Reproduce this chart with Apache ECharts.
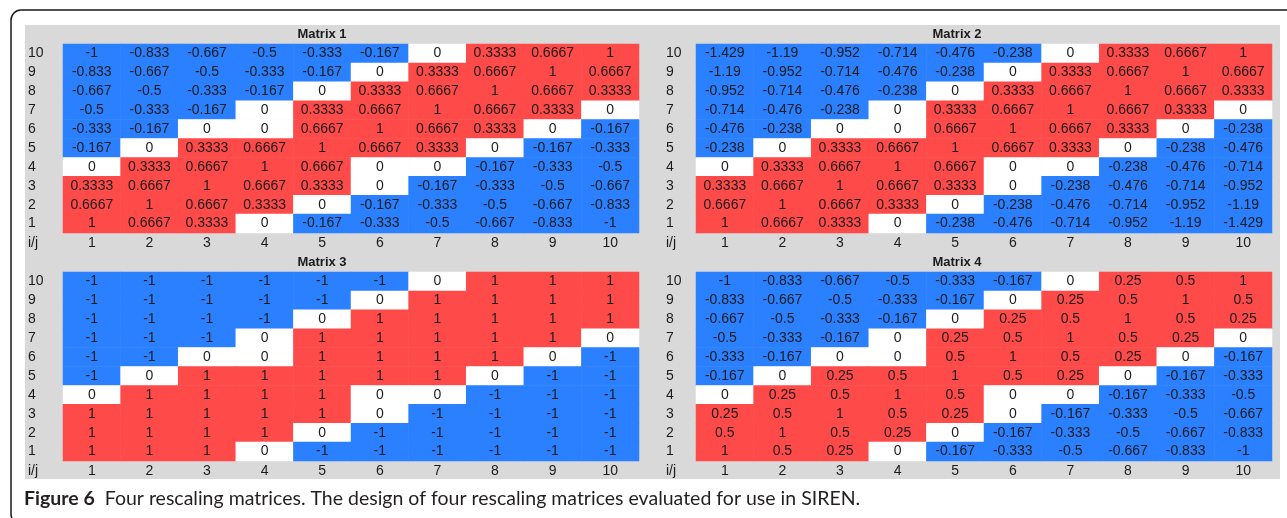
<!DOCTYPE html>
<html>
<head>
<meta charset="utf-8">
<script src="https://cdn.jsdelivr.net/npm/echarts@6/dist/echarts.min.js"></script>
<style>
html,body{margin:0;padding:0;background:#fff;}
#chart{width:1287px;height:518px;}
</style>
</head>
<body>
<div id="chart"></div>
<script>
// Column labels (j) and row labels (i, bottom to top)
const colLabels = ['1','2','3','4','5','6','7','8','9','10'];
const rowLabels = ['1','2','3','4','5','6','7','8','9','10'];
const titles = ['Matrix 1','Matrix 2','Matrix 3','Matrix 4'];

// Each matrix listed row by row from i = 10 (top) down to i = 1 (bottom)
const matrix1 = [
  [-1, -0.833, -0.667, -0.5, -0.333, -0.167, 0, 0.3333, 0.6667, 1],
  [-0.833, -0.667, -0.5, -0.333, -0.167, 0, 0.3333, 0.6667, 1, 0.6667],
  [-0.667, -0.5, -0.333, -0.167, 0, 0.3333, 0.6667, 1, 0.6667, 0.3333],
  [-0.5, -0.333, -0.167, 0, 0.3333, 0.6667, 1, 0.6667, 0.3333, 0],
  [-0.333, -0.167, 0, 0, 0.6667, 1, 0.6667, 0.3333, 0, -0.167],
  [-0.167, 0, 0.3333, 0.6667, 1, 0.6667, 0.3333, 0, -0.167, -0.333],
  [0, 0.3333, 0.6667, 1, 0.6667, 0, 0, -0.167, -0.333, -0.5],
  [0.3333, 0.6667, 1, 0.6667, 0.3333, 0, -0.167, -0.333, -0.5, -0.667],
  [0.6667, 1, 0.6667, 0.3333, 0, -0.167, -0.333, -0.5, -0.667, -0.833],
  [1, 0.6667, 0.3333, 0, -0.167, -0.333, -0.5, -0.667, -0.833, -1]
];
const matrix2 = [
  [-1.429, -1.19, -0.952, -0.714, -0.476, -0.238, 0, 0.3333, 0.6667, 1],
  [-1.19, -0.952, -0.714, -0.476, -0.238, 0, 0.3333, 0.6667, 1, 0.6667],
  [-0.952, -0.714, -0.476, -0.238, 0, 0.3333, 0.6667, 1, 0.6667, 0.3333],
  [-0.714, -0.476, -0.238, 0, 0.3333, 0.6667, 1, 0.6667, 0.3333, 0],
  [-0.476, -0.238, 0, 0, 0.6667, 1, 0.6667, 0.3333, 0, -0.238],
  [-0.238, 0, 0.3333, 0.6667, 1, 0.6667, 0.3333, 0, -0.238, -0.476],
  [0, 0.3333, 0.6667, 1, 0.6667, 0, 0, -0.238, -0.476, -0.714],
  [0.3333, 0.6667, 1, 0.6667, 0.3333, 0, -0.238, -0.476, -0.714, -0.952],
  [0.6667, 1, 0.6667, 0.3333, 0, -0.238, -0.476, -0.714, -0.952, -1.19],
  [1, 0.6667, 0.3333, 0, -0.238, -0.476, -0.714, -0.952, -1.19, -1.429]
];
const matrix3 = [
  [-1, -1, -1, -1, -1, -1, 0, 1, 1, 1],
  [-1, -1, -1, -1, -1, 0, 1, 1, 1, 1],
  [-1, -1, -1, -1, 0, 1, 1, 1, 1, 1],
  [-1, -1, -1, 0, 1, 1, 1, 1, 1, 0],
  [-1, -1, 0, 0, 1, 1, 1, 1, 0, -1],
  [-1, 0, 1, 1, 1, 1, 1, 0, -1, -1],
  [0, 1, 1, 1, 1, 0, 0, -1, -1, -1],
  [1, 1, 1, 1, 1, 0, -1, -1, -1, -1],
  [1, 1, 1, 1, 0, -1, -1, -1, -1, -1],
  [1, 1, 1, 0, -1, -1, -1, -1, -1, -1]
];
const matrix4 = [
  [-1, -0.833, -0.667, -0.5, -0.333, -0.167, 0, 0.25, 0.5, 1],
  [-0.833, -0.667, -0.5, -0.333, -0.167, 0, 0.25, 0.5, 1, 0.5],
  [-0.667, -0.5, -0.333, -0.167, 0, 0.25, 0.5, 1, 0.5, 0.25],
  [-0.5, -0.333, -0.167, 0, 0.25, 0.5, 1, 0.5, 0.25, 0],
  [-0.333, -0.167, 0, 0, 0.5, 1, 0.5, 0.25, 0, -0.167],
  [-0.167, 0, 0.25, 0.5, 1, 0.5, 0.25, 0, -0.167, -0.333],
  [0, 0.25, 0.5, 1, 0.5, 0, 0, -0.167, -0.333, -0.5],
  [0.25, 0.5, 1, 0.5, 0.25, 0, -0.167, -0.333, -0.5, -0.667],
  [0.5, 1, 0.5, 0.25, 0, -0.167, -0.333, -0.5, -0.667, -0.833],
  [1, 0.5, 0.25, 0, -0.167, -0.333, -0.5, -0.667, -0.833, -1]
];
const matrices = [matrix1, matrix2, matrix3, matrix4];

const BLUE = '#2a80ff';
const RED = '#ff4a4a';
const FONT = '"Liberation Sans", Arial, sans-serif';
const TXT = '#1b1b1b';

function toCells(m) {
  const out = [];
  const n = m.length;
  m.forEach((row, r) => {
    const yi = n - 1 - r; // row index from bottom
    row.forEach((v, c) => out.push([c, yi, v]));
  });
  return out;
}

const panelLayout = [
  {left: 63, top: 44, labelX: 28, titleX: 322, titleY: 28},
  {left: 696, top: 44, labelX: 666, titleX: 957, titleY: 28},
  {left: 63, top: 272, labelX: 28, titleX: 322, titleY: 256},
  {left: 696, top: 272, labelX: 666, titleX: 957, titleY: 256}
];
const GW = 576, GH = 189;

const grid = [], xAxis = [], yAxis = [], series = [], title = [];
panelLayout.forEach((p, k) => {
  grid.push({left: p.left, top: p.top, width: GW, height: GH, containLabel: false});
  xAxis.push({
    type: 'category', gridIndex: k, data: colLabels,
    axisLine: {show: false}, axisTick: {show: false}, splitLine: {show: false},
    axisLabel: {margin: 3, fontSize: 14, color: TXT, fontFamily: FONT}
  });
  yAxis.push({
    type: 'category', gridIndex: k, data: rowLabels,
    axisLine: {show: false}, axisTick: {show: false}, splitLine: {show: false},
    axisLabel: {align: 'left', margin: p.left - p.labelX, fontSize: 14, color: TXT, fontFamily: FONT}
  });
  series.push({
    type: 'heatmap', xAxisIndex: k, yAxisIndex: k,
    data: toCells(matrices[k]),
    itemStyle: {borderWidth: 0},
    label: {
      show: true, fontSize: 14, color: TXT, fontFamily: FONT,
      formatter: (d) => String(d.value[2])
    },
    emphasis: {disabled: true}
  });
  title.push({
    text: titles[k], left: p.titleX, top: p.titleY, textAlign: 'center', padding: 0,
    textStyle: {fontSize: 13, fontWeight: 'bold', color: TXT, fontFamily: FONT}
  });
  title.push({
    text: 'i/j', left: p.labelX, top: p.top + GH + 3, padding: 0,
    textStyle: {fontSize: 14, fontWeight: 'normal', color: TXT, fontFamily: FONT}
  });
});

const CAP_FONT = 'Lato, "Open Sans", sans-serif';
title.push({
  text: '{b|Figure 6}  Four rescaling matrices. The design of four rescaling matrices evaluated for use in SIREN.',
  left: 24, top: 489, padding: 0,
  textStyle: {
    fontSize: 19.5, fontWeight: 'normal', color: '#231f20', fontFamily: CAP_FONT,
    rich: {b: {fontSize: 19.5, fontWeight: 'bold', color: '#231f20', fontFamily: CAP_FONT}}
  }
});

const chart = echarts.init(document.getElementById('chart'), null, {renderer: 'canvas'});
chart.setOption({
  animation: false,
  backgroundColor: '#ffffff',
  graphic: [
    {type: 'rect', z: -10, shape: {x: 11, y: 10, width: 1300, height: 514, r: 10},
     style: {fill: '#ffffff', stroke: '#1a1a1a', lineWidth: 1.5}},
    {type: 'rect', z: -9, shape: {x: 25, y: 25, width: 1255, height: 454},
     style: {fill: '#d9d9d9'}}
  ],
  title: title,
  grid: grid,
  xAxis: xAxis,
  yAxis: yAxis,
  visualMap: [{
    type: 'piecewise', show: false, seriesIndex: [0, 1, 2, 3], dimension: 2,
    pieces: [
      {lt: 0, color: BLUE},
      {value: 0, color: '#ffffff'},
      {gt: 0, color: RED}
    ]
  }],
  series: series
});
</script>
</body>
</html>
